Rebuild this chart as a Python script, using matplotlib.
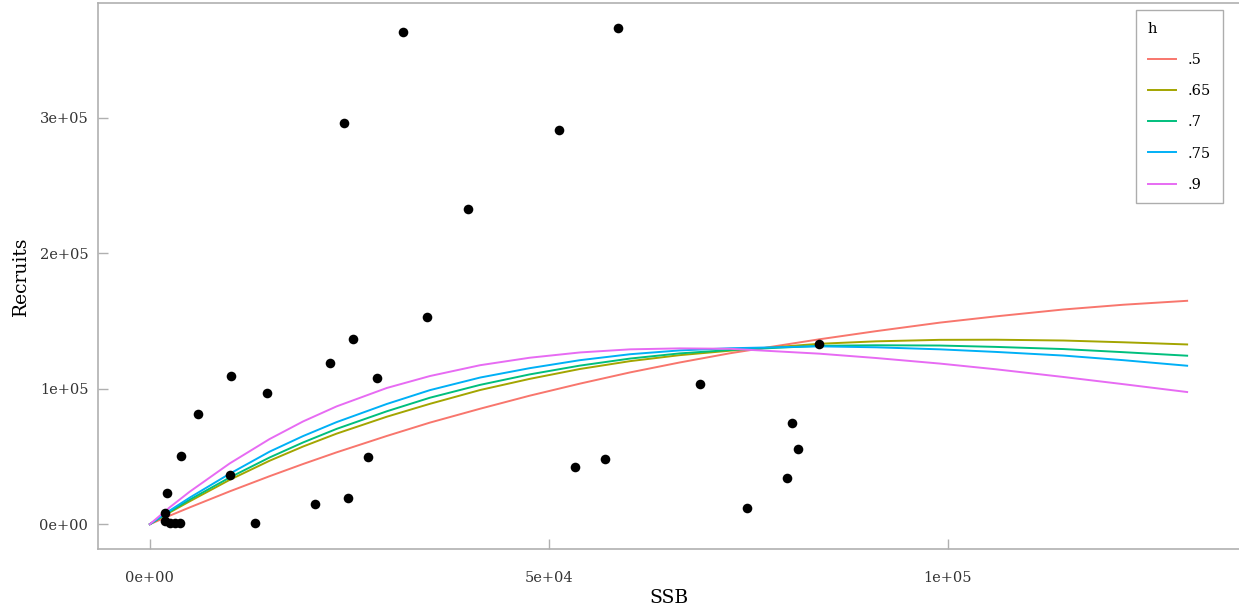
import matplotlib
matplotlib.use("Agg")
import matplotlib.pyplot as plt
import numpy as np


# observed spawning stock biomass and recruits
ssb = [1920, 2170, 1920, 2500, 3100, 3760, 3885, 6060, 10025, 10150,
       13160, 14620, 20720, 22560, 24310, 24850, 25440, 27360, 28480, 31750,
       34750, 39890, 51290, 53340, 57100, 58730, 69010, 74850, 79820, 80490,
       81240, 83870]
recruits = [8620, 22850, 2400, 700, 700, 1200, 50350, 81080, 36340, 109090,
            700, 97070, 14960, 119200, 296300, 19420, 136870, 49390, 107600, 363150,
            153090, 232180, 290640, 42240, 47910, 366100, 103190, 12300, 33900, 74450,
            55280, 133180]

# stock-recruit curves, one per steepness value
curve_ssb = [0, 2500, 5000, 10000, 15000, 19200, 23400, 29700, 35100, 41400,
             47600, 53900, 60200, 66400, 72700, 83900, 91000, 99000, 106000,
             114500, 122000, 130000]
h_labels = [".5", ".65", ".7", ".75", ".9"]
h_colors = ["#F8766D", "#A3A500", "#00BF7D", "#00B0F6", "#E76BF3"]
curve_h05 = [0, 6300, 12400, 24200, 35400, 44400, 53000, 65100, 74950, 85200,
             94800, 103700, 112000, 119300, 126100, 136400, 142400, 148700, 153300,
             158400, 161900, 164800]
curve_h065 = [0, 8700, 16900, 32700, 46800, 57300, 66800, 79300, 88800, 99000,
              107200, 114500, 120300, 124700, 128000, 133100, 134900, 136000, 136100,
              135500, 134200, 132600]
curve_h07 = [0, 9300, 18100, 34420, 49200, 60300, 70300, 83300, 93300, 102800,
             110500, 117000, 122200, 126000, 128500, 131600, 132000, 131800, 130800,
             129200, 126900, 124300]
curve_h075 = [0, 10100, 19600, 37200, 53500, 65000, 75300, 88700, 98900, 108200,
              115100, 121000, 125400, 128200, 129800, 131200, 130500, 129000, 127100,
              124400, 121000, 116900]
curve_h09 = [0, 12500, 24000, 44800, 62800, 75800, 86900, 100500, 109300, 117300,
             122800, 126700, 129000, 129700, 129400, 125800, 122600, 118500, 114300,
             108600, 103300, 97500]
curves = [curve_h05, curve_h065, curve_h07, curve_h075, curve_h09]

plt.rcParams["font.family"] = "DejaVu Serif"

fig = plt.figure(figsize=(12.39, 6.13), dpi=100)
ax = fig.add_axes([98 / 1239, 1 - 549 / 613, 1 - 98 / 1239, (549 - 3) / 613])

for ys, col, lab in zip(curves, h_colors, h_labels):
    ax.plot(curve_ssb, ys, color=col, lw=1.4, label=lab, zorder=2)

ax.scatter(ssb, recruits, s=48, color="black", zorder=3, linewidths=0)

ax.set_xlim(-6500, 136500)
ax.set_ylim(-18300, 384500)
ax.set_xticks([0, 50000, 100000])
ax.set_xticklabels(["0e+00", "5e+04", "1e+05"])
ax.set_yticks([0, 100000, 200000, 300000])
ax.set_yticklabels(["0e+00", "1e+05", "2e+05", "3e+05"])

grey = "#b0b0b0"
for side in ["left", "bottom", "top"]:
    ax.spines[side].set_color(grey)
    ax.spines[side].set_linewidth(1.2)
ax.spines["right"].set_visible(False)
ax.tick_params(axis="both", direction="in", color=grey, width=1, length=7,
               labelsize=10.5, labelcolor="#333333")
ax.tick_params(axis="x", pad=16)
ax.tick_params(axis="y", pad=7)

ax.set_xlabel("SSB", fontsize=13.5, labelpad=3)
ax.set_ylabel("Recruits", fontsize=13.5, labelpad=7)

leg = ax.legend(title="h", loc="upper right",
                bbox_to_anchor=(1223 / 1239, 1 - 10 / 613),
                bbox_transform=fig.transFigure, borderaxespad=0,
                fontsize=10.5, title_fontsize=10.5,
                frameon=True, fancybox=False, handlelength=1.9,
                labelspacing=1.18, borderpad=0.8, handletextpad=0.85)
leg.get_frame().set_edgecolor("#999999")
leg.get_frame().set_linewidth(1.0)
leg._legend_box.align = "left"

fig.savefig("out.png", dpi=100)
